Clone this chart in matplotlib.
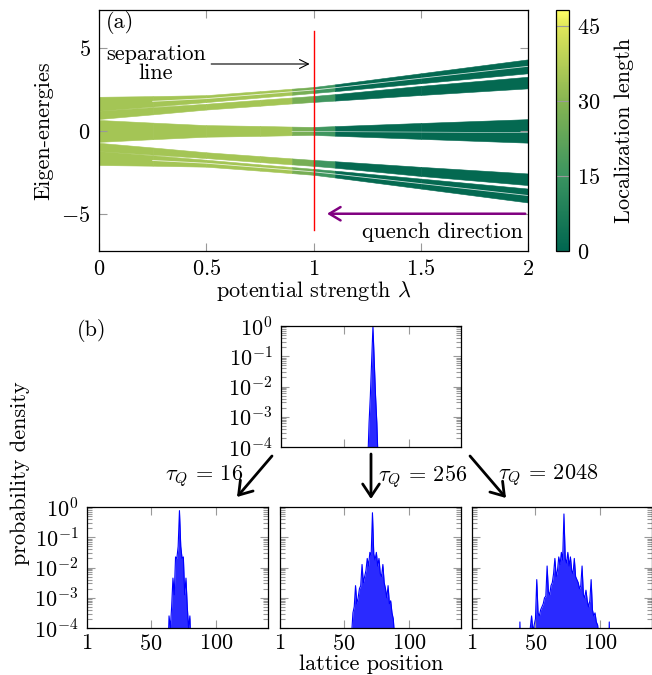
import numpy as np
import matplotlib.pyplot as plt
from matplotlib.colors import LinearSegmentedColormap, Normalize
from matplotlib.cm import ScalarMappable
from matplotlib.ticker import LogLocator, NullFormatter

plt.rcParams.update({
    'font.family': 'serif',
    'font.serif': ['cmr10'],
    'mathtext.fontset': 'cm',
    'axes.formatter.use_mathtext': True,
    'font.size': 16,
})

# ---- (a) spectrum vs potential strength, sub-band edges ----
lam = [0, 0.25, 0.5, 0.75, 0.9, 1.0, 1.1, 1.5, 2.0]
band1_hi = [2.06, 2.10, 2.16, 2.40, 2.55, 2.65, 2.81, 3.48, 4.32]
band1_lo = [1.22, 1.47, 1.74, 2.02, 2.18, 2.29, 2.40, 2.88, 3.48]
band2_hi = [1.22, 1.43, 1.64, 1.88, 2.02, 2.11, 2.22, 2.72, 3.27]
band2_lo = [0.72, 1.00, 1.29, 1.52, 1.66, 1.75, 1.83, 2.17, 2.57]
band3_hi = [0.66, 0.50, 0.35, 0.30, 0.26, 0.24, 0.29, 0.48, 0.71]
loc_length = [35, 35, 35, 35, 27, 16, 1.5, 1, 0.5]
sep_lambda = 1.0

# ---- (b) probability densities, log10 values from a start site ----
init_start = 67
init_log = [-5.0, -4.5, -3.2, -2.3, -1.2, -0.01, -1.2, -2.3, -3.2, -4.5, -5.0]

tq16_start = 63
tq16_log = [-5.0, -3.6, -4.0, -3.3, -2.35, -2.9, -1.65, -1.7, -1.3, -0.12,
            -1.3, -1.7, -1.65, -2.9, -2.35, -3.3, -4.0, -3.6, -5.0]

tq256_start = 55
tq256_log = [-5.0, -4.2, -3.5, -3.3, -2.6, -3.2, -3.0, -2.7, -2.6, -1.9,
             -2.5, -2.3, -2.1, -1.7, -1.95, -1.5, -1.6, -0.19, -1.55, -1.75,
             -1.5, -1.95, -1.7, -2.2, -2.3, -1.9, -2.5, -2.7, -3.0, -2.6,
             -3.2, -3.1, -3.5, -3.7, -4.3, -5.0]

tq2048_start = 36
tq2048_log = [-6, -6, -3.8, -6, -6, -6, -6, -6, -6, -4.6,
              -4.0, -3.6, -4.1, -3.9, -3.7, -2.4, -3.5, -3.6, -3.4, -3.3,
              -3.2, -3.0, -2.95, -1.95, -2.8, -2.9, -2.6, -2.5, -2.2, -1.7,
              -2.3, -2.1, -1.65, -1.9, -1.5, -1.75, -0.23, -1.7, -1.85, -1.5,
              -1.95, -1.65, -2.1, -2.2, -1.7, -2.3, -2.4, -2.5, -2.7, -2.6,
              -1.95, -2.9, -3.0, -2.75, -3.1, -3.3, -3.1, -2.4, -3.4, -3.6,
              -3.5, -3.8, -3.9, -4.3, -6, -6, -6, -6, -6, -6,
              -6, -3.8, -6]

n_sites = 144
quench_labels = [r'$\tau_Q\,=\,16$', r'$\tau_Q\,=\,256$', r'$\tau_Q\,=\,2048$']

W, H = 652, 675
fig = plt.figure(figsize=(W / 100, H / 100), dpi=100)


def box(x0, y0, x1, y1):
    # pixel box (top-left origin) -> figure fraction rect
    return [x0 / W, 1 - y1 / H, (x1 - x0) / W, (y1 - y0) / H]


def fpt(x, y):
    return (x / W, 1 - y / H)


cmap = LinearSegmentedColormap.from_list(
    'loc', [(0.0, '#006650'), (0.31, '#3a9460'), (0.62, '#86b452'),
            (0.93, '#dfe55a'), (1.0, '#ffff64')], N=256)
norm = Normalize(0, 48.2)

ax = fig.add_axes(box(99, 10, 528, 251))
lam = np.array(lam)
b1h, b1l = np.array(band1_hi), np.array(band1_lo)
b2h, b2l = np.array(band2_hi), np.array(band2_lo)
b3 = np.array(band3_hi)
bands = [(b1l, b1h), (b2l, b2h), (-b3, b3), (-b2h, -b2l), (-b1h, -b1l)]
for lo, hi in bands:
    for i in range(len(lam) - 1):
        c = cmap(norm(loc_length[i]))
        ax.fill_between(lam[i:i + 2], lo[i:i + 2], hi[i:i + 2],
                        color=c, lw=0.4, edgecolor=c)

# thin gaps inside the outer sub-bands and the central band
m = lam >= 0.25
for lo, hi in [(b1l, b1h), (-b1h, -b1l)]:
    ax.plot(lam[m], (lo[m] + hi[m]) / 2, color='white', lw=0.6, alpha=0.8)
m = lam >= 0.9
ax.plot(lam[m], -0.15 * b3[m], color='white', lw=0.5, alpha=0.7)

ax.plot([sep_lambda, sep_lambda], [-6.0, 6.05], color='red', lw=1.0)
ax.annotate('', xy=(sep_lambda - 0.005, 4.04), xytext=(0.51, 4.04),
            arrowprops=dict(arrowstyle='->', lw=0.8, color='black'))
ax.text(0.266, 4.05, 'separation\nline', ha='center', va='center',
        linespacing=1.0)
ax.annotate('', xy=(1.05, -5.0), xytext=(2.0, -5.0),
            arrowprops=dict(arrowstyle='->,head_length=0.5,head_width=0.3',
                            lw=1.8, color='#800080'))
ax.text(1.975, -6.1, 'quench direction', ha='right', va='center')
ax.text(0.03, 6.55, '(a)', ha='left', va='center')

ax.set_xlim(0, 2)
ax.set_ylim(-7.25, 7.3)
ax.set_xticks([0, 0.5, 1, 1.5, 2])
ax.set_xticklabels(['$0$', '$0.5$', '$1$', '$1.5$', '$2$'])
ax.set_yticks([-5, 0, 5])
ax.set_yticklabels(['$-5$', '$0$', '$5$'])
ax.tick_params(direction='in', top=True, right=True, color='#999999',
               length=6, width=0.8, pad=6)
for s in ax.spines.values():
    s.set_linewidth(0.9)
ax.set_xlabel(r'potential strength $\lambda$', labelpad=0)
ax.set_ylabel('Eigen-energies', labelpad=6)

cax = fig.add_axes(box(556, 10, 569, 251))
sm = ScalarMappable(norm=norm, cmap=cmap)
cb = fig.colorbar(sm, cax=cax, ticks=[0, 15, 30, 45])
cb.ax.set_yticklabels(['$0$', '$15$', '$30$', '$45$'])
cb.ax.tick_params(direction='in', length=9.5, width=0.8, color='#999999',
                  pad=6)
cb.outline.set_linewidth(0.9)
cb.set_label('Localization length', labelpad=10)


def density(start, logs):
    d = np.full(n_sites, 1e-8)
    d[start - 1:start - 1 + len(logs)] = 10.0 ** np.array(logs)
    return d


sites = np.arange(1, n_sites + 1)


def prob_axes(rect, start, logs, ylabels, xlabels):
    a = fig.add_axes(rect)
    d = density(start, logs)
    a.fill_between(sites, d, 1e-8, color='#2a2aff', lw=0)
    a.plot(sites, d, color='blue', lw=0.8)
    a.set_yscale('log')
    a.set_ylim(1e-4, 1)
    a.set_xlim(1, 140)
    a.set_xticks([1, 50, 100])
    a.yaxis.set_major_locator(LogLocator(base=10, numticks=10))
    a.yaxis.set_minor_locator(LogLocator(base=10, subs=np.arange(2, 10),
                                         numticks=10))
    a.yaxis.set_minor_formatter(NullFormatter())
    a.tick_params(which='both', direction='in', top=True, right=True,
                  color='#999999', width=0.8)
    a.tick_params(which='major', length=6, pad=6)
    a.tick_params(axis='x', which='major', pad=4)
    a.tick_params(which='minor', length=3.5)
    if not ylabels:
        a.set_yticklabels([])
    if xlabels:
        a.set_xticklabels(['$1$', '$50$', '$100$'])
    else:
        a.set_xticklabels([])
    for s in a.spines.values():
        s.set_linewidth(0.9)
    return a


prob_axes(box(281, 326, 461, 447), init_start, init_log, True, False)
prob_axes(box(87, 507, 268, 628), tq16_start, tq16_log, True, True)
prob_axes(box(280, 507, 461, 628), tq256_start, tq256_log, False, True)
prob_axes(box(472, 507, 652, 628), tq2048_start, tq2048_log, False, True)

fig.text(*fpt(92, 330), '(b)', ha='center', va='center')
fig.text(*fpt(20, 473), 'probability density', rotation=90,
         ha='center', va='center')
fig.text(*fpt(371, 664), 'lattice position', ha='center', va='center')

arrows = [((272, 456), (237, 497)), ((371, 454), (371, 499)),
          ((470, 456), (506, 498))]
for (p0, p1) in arrows:
    ax.annotate('', xy=fpt(*p1), xytext=fpt(*p0), xycoords='figure fraction',
                textcoords='figure fraction', annotation_clip=False,
                arrowprops=dict(arrowstyle='->,head_length=0.45,head_width=0.3',
                                lw=2.0, color='black', shrinkA=0, shrinkB=0,
                                mutation_scale=20))
label_pos = [(204, 476), (423, 477), (548, 475)]
for txt, (x, y) in zip(quench_labels, label_pos):
    fig.text(*fpt(x, y), txt, ha='center', va='center')

fig.savefig('out.png', dpi=100)
